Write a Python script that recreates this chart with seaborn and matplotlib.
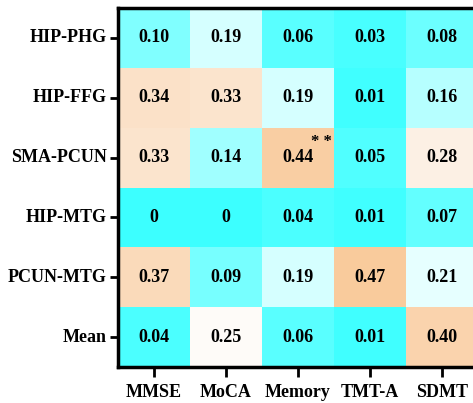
import numpy as np
import pandas as pd
import matplotlib
matplotlib.use("Agg")
import matplotlib.pyplot as plt
import seaborn as sns
from matplotlib.colors import LinearSegmentedColormap

rows = ["HIP-PHG", "HIP-FFG", "SMA-PCUN", "HIP-MTG", "PCUN-MTG", "Mean"]
cols = ["MMSE", "MoCA", "Memory", "TMT-A", "SDMT"]
mmse = [0.10, 0.34, 0.33, 0, 0.37, 0.04]
moca = [0.19, 0.33, 0.14, 0, 0.09, 0.25]
memory = [0.06, 0.19, 0.44, 0.04, 0.19, 0.06]
tmta = [0.03, 0.01, 0.05, 0.01, 0.47, 0.01]
sdmt = [0.08, 0.16, 0.28, 0.07, 0.21, 0.40]
labels = [["0.10", "0.19", "0.06", "0.03", "0.08"],
          ["0.34", "0.33", "0.19", "0.01", "0.16"],
          ["0.33", "0.14", "0.44", "0.05", "0.28"],
          ["0", "0", "0.04", "0.01", "0.07"],
          ["0.37", "0.09", "0.19", "0.47", "0.21"],
          ["0.04", "0.25", "0.06", "0.01", "0.40"]]

df = pd.DataFrame({"MMSE": mmse, "MoCA": moca, "Memory": memory,
                   "TMT-A": tmta, "SDMT": sdmt}, index=rows)[cols]

vmax = 0.47
stops = [(0.00, "#3CFFFF"), (0.05, "#50FFFF"), (0.10, "#80FFFF"), (0.14, "#A0FFFF"),
         (0.19, "#D5FFFF"), (0.24, "#FFFFFF"), (0.28, "#FCF0E4"), (0.34, "#FBE1C8"),
         (0.40, "#FAD3AD"), (0.47, "#F9CB9C")]
cmap = LinearSegmentedColormap.from_list("cw", [(v / vmax, c) for v, c in stops])

plt.rcParams['font.family'] = ['Liberation Serif', 'DejaVu Serif']
plt.rcParams['font.weight'] = 'bold'

fig = plt.figure(figsize=(4.73, 4.03), dpi=100)
W, H = 473, 403
ax = fig.add_axes([118 / W, (H - 367) / H, 360 / W, 359 / H])
sns.heatmap(df, ax=ax, cmap=cmap, vmin=0, vmax=vmax, cbar=False,
            annot=np.array(labels), fmt="",
            annot_kws={"fontsize": 13, "fontweight": "bold", "color": "black"})
ax.text(2.83, 2.24, "* *", ha="center", va="center", fontsize=12, fontweight="bold")

for s in ["left", "top", "bottom"]:
    ax.spines[s].set_visible(True)
    ax.spines[s].set_linewidth(2.5)
    ax.spines[s].set_color("black")
ax.spines["right"].set_visible(False)
ax.tick_params(axis="y", length=6, width=2, labelsize=13, pad=2)
ax.tick_params(axis="x", length=7, width=2, labelsize=13, pad=5)
ax.set_yticklabels(rows, rotation=0, fontweight="bold")
ax.set_xticklabels(cols, rotation=0, fontweight="bold")
ax.set_xlabel("")
ax.set_ylabel("")
fig.savefig("out.png", dpi=100)
